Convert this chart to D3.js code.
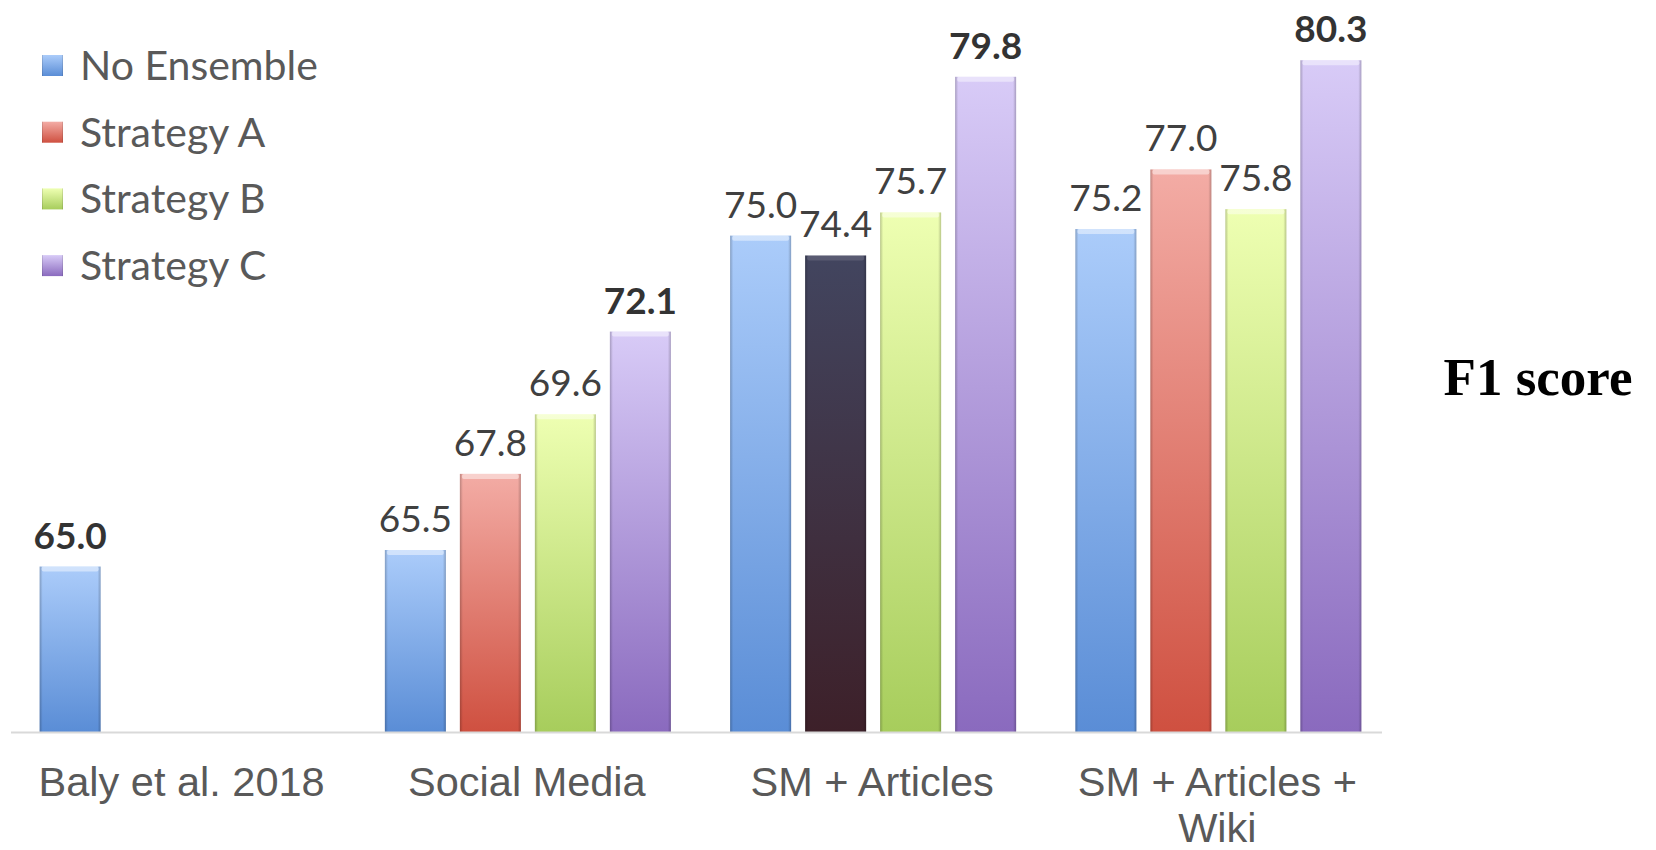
<!DOCTYPE html>
<html>
<head>
<meta charset="utf-8">
<script src="https://cdn.jsdelivr.net/npm/d3@7"></script>
<style>
  html, body { margin: 0; padding: 0; background: #ffffff; }
  svg { display: block; }
</style>
</head>
<body>
<svg id="chart" width="1656" height="850"></svg>
<script>
// ---- Data ----
const categories = ["Baly et al. 2018", "Social Media", "SM + Articles", "SM + Articles + Wiki"];
const categoryLines = [["Baly et al. 2018"], ["Social Media"], ["SM + Articles"], ["SM + Articles +", "Wiki"]];
const seriesNames = ["No Ensemble", "Strategy A", "Strategy B", "Strategy C"];
const noEnsemble = [65.0, 65.5, 75.0, 75.2];
const strategyA  = [null, 67.8, 74.4, 77.0];
const strategyB  = [null, 69.6, 75.7, 75.8];
const strategyC  = [null, 72.1, 79.8, 80.3];
const seriesValues = [noEnsemble, strategyA, strategyB, strategyC];
const yDomain = [60, 82];
const axisTitle = "F1 score";

// ---- Styles ----
const seriesColors = [
  { top: "#abccfa", bottom: "#5a8dd6" },
  { top: "#f3aca5", bottom: "#cf5040" },
  { top: "#eeffb2", bottom: "#a7cd5c" },
  { top: "#d8cbf7", bottom: "#8a6abe" }
];
const darkColor = { top: "#42455f", bottom: "#3d2029" };
const highlightBar = { category: "SM + Articles", series: "Strategy A" };

const svg = d3.select("#chart");
const defs = svg.append("defs");

function addGrad(id, c) {
  const g = defs.append("linearGradient").attr("id", id)
    .attr("x1", 0).attr("y1", 0).attr("x2", 0).attr("y2", 1);
  g.append("stop").attr("offset", "0%").attr("stop-color", c.top);
  g.append("stop").attr("offset", "100%").attr("stop-color", c.bottom);
}
seriesColors.forEach((c, i) => addGrad("g" + i, c));
addGrad("gdark", darkColor);
// edge shading overlay
const eg = defs.append("linearGradient").attr("id", "edge")
  .attr("x1", 0).attr("y1", 0).attr("x2", 1).attr("y2", 0);
[[0, 0.22], [0.05, 0.0], [0.95, 0.0], [1, 0.22]].forEach(([o, a]) =>
  eg.append("stop").attr("offset", (o * 100) + "%").attr("stop-color", "#000").attr("stop-opacity", a));

// ---- Scales ----
const x0 = d3.scaleBand().domain(categories).range([10, 1391]).paddingInner(0).paddingOuter(0);
const innerSpan = 286;
const x1 = d3.scaleBand().domain(seriesNames).range([0, innerSpan]).paddingInner(0.1867).paddingOuter(0);
const y = d3.scaleLinear().domain(yDomain).range([732, 4]);

// ---- Bars ----
const bars = [];
categories.forEach((cat, ci) => {
  const groupVals = seriesValues.map(s => s[ci]).filter(v => v != null);
  const groupMax = d3.max(groupVals);
  seriesNames.forEach((s, si) => {
    const v = seriesValues[si][ci];
    if (v == null) return;
    bars.push({ cat, s, si, v, bold: v === groupMax,
      dark: cat === highlightBar.category && s === highlightBar.series });
  });
});

const gBars = svg.append("g");
const bx = d => x0(d.cat) + x0.bandwidth() / 2 - innerSpan / 2 + x1(d.s);

const barG = gBars.selectAll("g.bar").data(bars).enter().append("g").attr("class", "bar");
barG.append("rect")
  .attr("x", bx)
  .attr("y", d => y(d.v))
  .attr("width", x1.bandwidth())
  .attr("height", d => y(yDomain[0]) - y(d.v))
  .attr("fill", d => d.dark ? "url(#gdark)" : "url(#g" + d.si + ")");
barG.append("rect")
  .attr("x", bx)
  .attr("y", d => y(d.v))
  .attr("width", x1.bandwidth())
  .attr("height", d => y(yDomain[0]) - y(d.v))
  .attr("fill", "url(#edge)");
// top highlight cap
barG.append("rect")
  .attr("x", d => bx(d) + 2)
  .attr("y", d => y(d.v))
  .attr("width", x1.bandwidth() - 4)
  .attr("height", 5)
  .attr("rx", 2)
  .attr("fill", "#ffffff")
  .attr("opacity", d => d.dark ? 0.12 : 0.45);

// value labels
gBars.selectAll("text.val").data(bars).enter().append("text")
  .attr("class", "val")
  .attr("x", d => bx(d) + x1.bandwidth() / 2)
  .attr("y", d => y(d.v) - 18)
  .attr("text-anchor", "middle")
  .attr("font-family", "Lato, 'Open Sans', sans-serif")
  .attr("font-size", 37)
  .attr("font-weight", d => d.bold ? 700 : 400)
  .attr("fill", d => d.bold ? "#333333" : "#404040")
  .text(d => d.v.toFixed(1));

// ---- Axis ----
svg.append("line")
  .attr("x1", 11).attr("x2", 1382)
  .attr("y1", y(yDomain[0]) + 0.5).attr("y2", y(yDomain[0]) + 0.5)
  .attr("stroke", "#d9d9d9").attr("stroke-width", 2);

const xl = svg.append("g").selectAll("text").data(categories).enter().append("text")
  .attr("x", d => x0(d) + x0.bandwidth() / 2 - 1)
  .attr("y", 796)
  .attr("text-anchor", "middle")
  .attr("font-family", "'Liberation Sans', Arial, sans-serif")
  .attr("font-size", 41.5)
  .attr("fill", "#595959");
xl.each(function(d, i) {
  const t = d3.select(this);
  categoryLines[i].forEach((ln, li) => {
    t.append("tspan").attr("x", x0(d) + x0.bandwidth() / 2 - 1).attr("dy", li === 0 ? 0 : 46).text(ln);
  });
});

// ---- Legend ----
const lg = svg.append("g").selectAll("g").data(seriesNames).enter().append("g")
  .attr("transform", (d, i) => `translate(0, ${65.5 + i * 66.7})`);
lg.append("rect").attr("x", 42).attr("y", -10.5).attr("width", 21).attr("height", 21)
  .attr("fill", (d, i) => "url(#g" + i + ")");
lg.append("rect").attr("x", 42).attr("y", -10.5).attr("width", 21).attr("height", 21)
  .attr("fill", "url(#edge)");
lg.append("text").attr("x", 80).attr("y", 14.5)
  .attr("font-family", "Lato, 'Open Sans', sans-serif")
  .attr("font-size", 41)
  .attr("fill", "#595959")
  .text(d => d);

// ---- Axis title ----
svg.append("text")
  .attr("x", 1538).attr("y", 395)
  .attr("text-anchor", "middle")
  .attr("font-family", "'Liberation Serif', 'Times New Roman', serif")
  .attr("font-weight", 700)
  .attr("font-size", 53)
  .attr("fill", "#000000")
  .text(axisTitle);
</script>
</body>
</html>
